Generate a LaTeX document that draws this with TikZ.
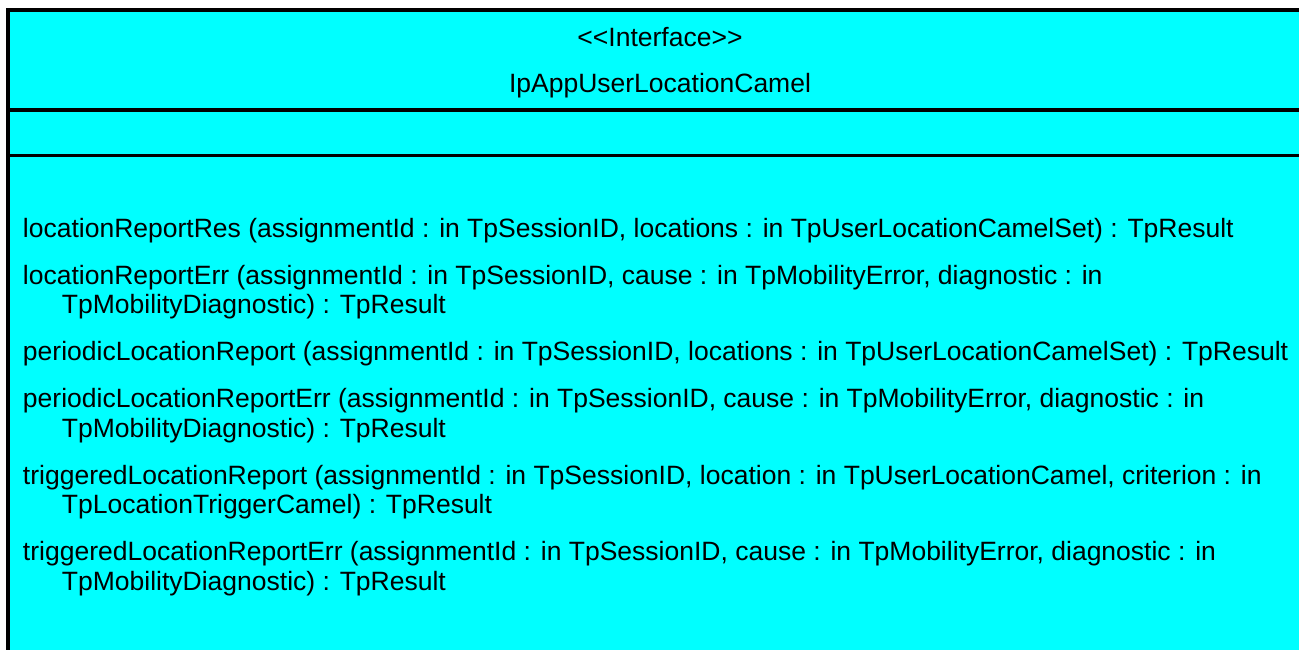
\documentclass[tikz,border=0pt]{standalone}
\usepackage{fontspec}
\newfontfamily\umlfont{Liberation Sans}
\usetikzlibrary{positioning}
\definecolor{umlcyan}{RGB}{0,255,255}
\tikzset{
    every node/.style={inner sep=0pt, outer sep=0pt},
    umltext/.style={ % Sets the font of every text in the class box
        font=\umlfont\fontsize{26.5}{29.5}\selectfont,
        text=black
    },
    title/.style={umltext, anchor=base},
    operation/.style={umltext, anchor=base west},
    frame/.style={draw=black, line width=4pt}
}
% an operation that wraps onto an indented second line
\newcommand{\wrapop}[2]{\vtop{\hbox{#1}\hbox{\hspace*{39pt}#2}}}

\begin{document}
\begin{tikzpicture}[x=1pt,y=-1pt]
    \useasboundingbox (0,0) rectangle (1299,649);
    \fill[umlcyan] (8,10) rectangle (1312,670);
    \draw[frame] (8,670) -- (8,10) -- (1312,10);
    \draw[frame] (8,110) -- (1312,110);
    \draw[frame, line width=3pt] (8,155.5) -- (1312,155.5);

    \node[title] (stereo) at (660,46.7) {<<Interface>>};
    \node[title, below=46pt of stereo.base, anchor=base] (classname) {IpAppUserLocationCamel};

    \node[operation] (op1) at (23,237) {locationReportRes (assignmentId : in TpSessionID, locations : in TpUserLocationCamelSet) : TpResult};
    \node[operation, below=47pt of op1.base west, anchor=base west] (op2) {\wrapop{locationReportErr (assignmentId : in TpSessionID, cause : in TpMobilityError, diagnostic : in}{TpMobilityDiagnostic) : TpResult}};
    \node[operation, below=76.5pt of op2.base west, anchor=base west] (op3) {periodicLocationReport (assignmentId : in TpSessionID, locations : in TpUserLocationCamelSet) : TpResult};
    \node[operation, below=47pt of op3.base west, anchor=base west] (op4) {\wrapop{periodicLocationReportErr (assignmentId : in TpSessionID, cause : in TpMobilityError, diagnostic : in}{TpMobilityDiagnostic) : TpResult}};
    \node[operation, below=76.5pt of op4.base west, anchor=base west] (op5) {\wrapop{triggeredLocationReport (assignmentId : in TpSessionID, location : in TpUserLocationCamel, criterion : in}{TpLocationTriggerCamel) : TpResult}};
    \node[operation, below=76.5pt of op5.base west, anchor=base west] (op6) {\wrapop{triggeredLocationReportErr (assignmentId : in TpSessionID, cause : in TpMobilityError, diagnostic : in}{TpMobilityDiagnostic) : TpResult}};
\end{tikzpicture}
\end{document}
